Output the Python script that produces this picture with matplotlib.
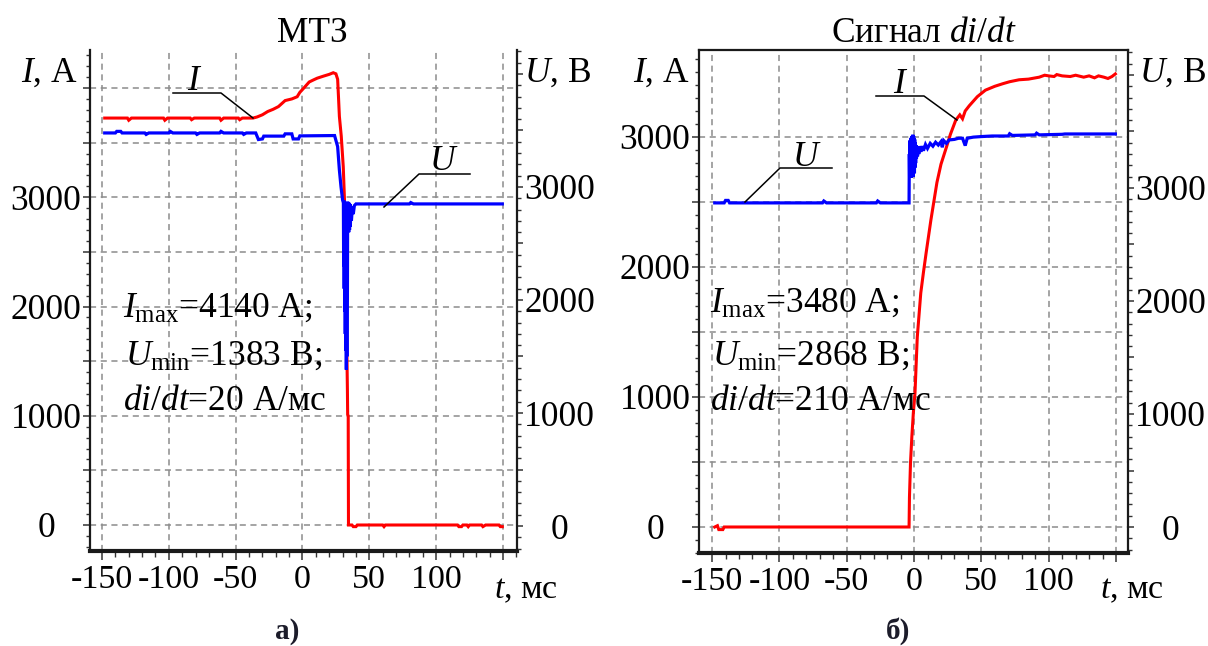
import matplotlib
matplotlib.use("Agg")
import matplotlib.pyplot as plt
from matplotlib.ticker import MultipleLocator
from matplotlib.lines import Line2D

plt.rcParams["font.family"] = ["Liberation Serif", "DejaVu Serif"]
plt.rcParams["mathtext.fontset"] = "custom"
plt.rcParams["mathtext.rm"] = "Liberation Serif"
plt.rcParams["mathtext.it"] = "Liberation Serif:italic"
plt.rcParams["mathtext.bf"] = "Liberation Serif:bold"

# ---- data: (t, ms ; value) ----
mtz_current = [
    (-148, 3725), (-131, 3725), (-130, 3705), (-128, 3725),
    (-104, 3725), (-103, 3705), (-101, 3725), (-84, 3725), (-83, 3710), (-81, 3725),
    (-62, 3725), (-61, 3705), (-59, 3725), (-48, 3725), (-47, 3710), (-45, 3725),
    (-37, 3725), (-34, 3735), (-30, 3755), (-26, 3785), (-22, 3805), (-18, 3830),
    (-13, 3885), (-8, 3900), (-4, 3920), (-2, 3960), (1, 4000), (5, 4055),
    (8, 4073), (11, 4090), (16, 4110), (20, 4125), (23, 4140), (25, 4130),
    (26.3, 4080), (27, 3900), (27.6, 3740), (29, 3560), (30.5, 3280), (31.7, 2880),
    (32.6, 2200), (33.3, 1500), (33.6, 1240), (33.8, 1010), (34.2, 1000), (34.4, 0),
    (37, 0), (38, -15), (40, -15), (41, 0), (60, 0), (61, -15), (62, 0),
    (116, 0), (117, -15), (119, -15), (120, 0), (123, 0), (124, -15), (125, 0),
    (134, 0), (135, -15), (137, 0), (147, 0), (148, -15), (149.5, -15),
]
mtz_voltage = [
    (-148, 3478), (-140, 3478), (-139, 3492), (-136, 3492), (-135, 3478),
    (-118, 3478), (-117, 3465), (-115, 3478), (-100, 3478), (-99, 3492), (-97, 3478),
    (-80, 3478), (-79, 3465), (-77, 3478), (-62, 3478), (-61, 3492), (-59, 3478),
    (-45, 3478), (-44, 3465), (-42, 3478), (-35, 3478), (-33, 3420), (-30, 3425),
    (-29, 3450), (-14, 3450), (-13, 3470), (-8, 3470), (-7, 3425), (-3, 3425),
    (-2, 3452), (24, 3455), (26.3, 3357), (27.6, 3150), (28.8, 3003), (30, 2885),
    (30.6, 2860), (30.8, 2300), (31.0, 2880), (31.2, 2100), (31.4, 2870),
    (31.6, 1900), (31.8, 2860), (32.0, 1700), (32.2, 2850), (32.4, 1550),
    (32.6, 2820), (32.8, 1383), (33.0, 2800), (33.2, 1500), (33.4, 2850),
    (33.6, 2000), (33.8, 2870), (34.0, 2600), (34.3, 2860), (34.6, 2600),
    (34.9, 2860), (35.2, 2620), (35.5, 2850), (35.8, 2650), (36.2, 2830),
    (36.6, 2700), (37.2, 2800), (38.0, 2760), (38.8, 2835), (40, 2850),
    (80, 2850), (81, 2862), (83, 2850), (149.5, 2850),
]
didt_current = [
    (-148, 0), (-146, 10), (-145, -20), (-142, -20), (-141, 0),
    (-3.7, 0), (-3.4, 230), (-2.6, 500), (-1.6, 700), (-0.5, 880),
    (0.7, 1030), (2.4, 1460), (5, 1800), (7, 1960), (9, 2110), (12.5, 2360),
    (17, 2650), (20, 2790), (24, 2920), (27, 3020), (31, 3130), (34, 3170),
    (36, 3140), (38, 3200), (41, 3240), (47, 3310), (53, 3360), (60, 3390),
    (66, 3410), (71, 3425), (78, 3440), (85, 3445), (93, 3460), (97, 3475),
    (100, 3470), (104, 3465), (106, 3480), (110, 3470), (116, 3465), (120, 3475),
    (126, 3460), (130, 3470), (134, 3455), (137, 3470), (141, 3460), (144, 3450),
    (147, 3465), (149.5, 3485),
]
didt_voltage = [
    (-148, 2868), (-141, 2868), (-140, 2890), (-138, 2890), (-137, 2868),
    (-68, 2868), (-67, 2885), (-65, 2868), (-28, 2868), (-27, 2885), (-25, 2868),
    (-3.7, 2868), (-3.5, 3300), (-3.3, 3100), (-3.1, 3420), (-2.9, 3090),
    (-2.7, 3400), (-2.5, 3100), (-2.3, 3440), (-2.1, 3090), (-1.9, 3450),
    (-1.7, 3110), (-1.5, 3460), (-1.3, 3100), (-1.1, 3470), (-0.9, 3120),
    (-0.7, 3470), (-0.5, 3100), (-0.3, 3460), (-0.1, 3150), (0.1, 3440),
    (0.3, 3130), (0.5, 3430), (0.7, 3180), (0.9, 3400), (1.2, 3220),
    (1.5, 3380), (1.8, 3260), (2.2, 3370), (2.6, 3280), (3.0, 3360),
    (3.5, 3300), (4.2, 3370), (5, 3320), (6, 3370), (7, 3330), (8.5, 3385),
    (10, 3350), (12, 3395), (14, 3370), (16, 3405), (18, 3380), (20, 3410),
    (21, 3360), (22, 3420), (24, 3395), (26, 3425), (30, 3430), (33, 3440),
    (36, 3440), (38, 3375), (39.5, 3440), (44, 3450), (50, 3455), (58, 3460),
    (70, 3460), (71, 3480), (73, 3465), (90, 3470), (91, 3485), (93, 3470),
    (110, 3475), (112, 3478), (149.5, 3478),
]

t_ticks = [-150, -100, -50, 0, 50, 100, 150]
t_labels = ["-150", "-100", "-50", "0", "50", "100", ""]
i_ticks_mtz = [0, 500, 1000, 1500, 2000, 2500, 3000, 3500, 4000]
i_ticks_didt = [0, 500, 1000, 1500, 2000, 2500, 3000]
u_ticks = [0, 500, 1000, 1500, 2000, 2500, 3000, 3500, 4000]


def thousands(ticks):
    return [str(v) if v % 1000 == 0 and v < 4000 else "" for v in ticks]


W, H = 1208, 646
FS = 25.5
fig = plt.figure(figsize=(W / 100, H / 100), dpi=100)


def fx(x):
    return x / W


def fy(y):
    return 1 - y / H


def panel(box, xlim, ilim, ulim, i_ticks, top_spine):
    l, t, r, b = box
    ax = fig.add_axes([fx(l), fy(b), (r - l) / W, (b - t) / H])
    ax2 = ax.twinx()
    ax.set_xlim(*xlim)
    ax.set_ylim(*ilim)
    ax2.set_ylim(*ulim)

    ax.set_xticks(t_ticks, labels=t_labels)
    ax.xaxis.set_minor_locator(MultipleLocator(10))
    ax.set_yticks(i_ticks, labels=thousands(i_ticks))
    ax.yaxis.set_minor_locator(MultipleLocator(100))
    ax2.set_yticks(u_ticks, labels=thousands(u_ticks))
    ax2.yaxis.set_minor_locator(MultipleLocator(100))

    ax.grid(True, which="major", color="#8c8c8c", ls=(0, (4, 3)), lw=1.1)
    ax.tick_params(axis="x", which="major", direction="out", length=6.5,
                   width=1.1, color="#333333", labelsize=24.5, pad=3)
    ax.tick_params(axis="x", which="minor", direction="out", length=4.3,
                   width=1.0, color="#333333")
    ax.tick_params(axis="y", which="major", direction="out", length=5,
                   width=1.1, color="#333333", labelsize=FS, pad=26.6)
    ax.tick_params(axis="y", which="minor", direction="out", length=2.9,
                   width=1.0, color="#333333")
    ax2.tick_params(axis="y", which="major", direction="out", length=4.5,
                    width=1.1, color="#333333", labelsize=FS, pad=26.2)
    ax2.tick_params(axis="y", which="minor", direction="out", length=2.9,
                    width=1.0, color="#333333")
    for lab in ax.get_yticklabels() + ax2.get_yticklabels():
        lab.set_horizontalalignment("center")

    for s in ["top", "bottom", "left"]:
        ax2.spines[s].set_visible(False)
    ax.spines["right"].set_visible(False)
    ax.spines["left"].set_linewidth(1.6)
    ax.spines["bottom"].set_linewidth(3.0)
    ax2.spines["right"].set_linewidth(1.6)
    ax.spines["top"].set_linewidth(1.6)
    ax.spines["top"].set_visible(top_spine)
    for sp in list(ax.spines.values()) + list(ax2.spines.values()):
        sp.set_color("#1a1a1a")
    return ax, ax2


def draw(ax, ax2, current, voltage):
    t_i, v_i = zip(*current)
    t_u, v_u = zip(*voltage)
    ax.plot(t_i, v_i, color="#ff0000", lw=2.2, solid_joinstyle="miter")
    ax2.plot(t_u, v_u, color="#0000ff", lw=2.3, solid_joinstyle="miter")


ax_a, ax_a2 = panel((90, 50, 517, 551), (-159.0, 160.5), (-238, 4348),
                    (-221, 4212), i_ticks_mtz, False)
draw(ax_a, ax_a2, mtz_current, mtz_voltage)

ax_b, ax_b2 = panel((699, 50, 1128, 553), (-159.7, 158.9), (-200, 3669),
                    (-230, 4221), i_ticks_didt, True)
draw(ax_b, ax_b2, didt_current, didt_voltage)


def txt(x, y, s, ha="center", **kw):
    fig.text(fx(x), fy(y), s, ha=ha, va="baseline", fontsize=kw.pop("size", FS), **kw)


def leader(points):
    xs = [fx(p[0]) for p in points]
    ys = [fy(p[1]) for p in points]
    fig.add_artist(Line2D(xs, ys, color="black", lw=1.1,
                          transform=fig.transFigure))


# titles and axis captions
txt(312, 42, "МТЗ")
txt(924, 42, "Сигнал $di/dt$")
txt(49, 82, "$I$, А")
txt(558, 82, "$U$, В")
txt(661, 82, "$I$, А")
txt(1173, 82, "$U$, В")
txt(494, 598, "$t$, мс", ha="left", size=24.5)
txt(1100, 598, "$t$, мс", ha="left", size=24.5)

# curve markers
txt(195, 90, "$I$")
leader([(173, 93), (221, 93), (253, 118)])
txt(444, 170, "$U$")
leader([(384, 207), (419, 174), (470, 174)])
txt(901, 93, "$I$")
leader([(876, 96), (924, 96), (957, 120)])
txt(807, 166, "$U$")
leader([(745, 202), (780, 168), (832, 168)])

# summary values
txt(123, 317, r"$I_{\mathrm{max}}$=4140 А;", ha="left")
txt(125, 365, r"$U_{\mathrm{min}}$=1383 В;", ha="left")
txt(123, 410, "$di/dt$=20 А/мс", ha="left")
txt(710, 312, r"$I_{\mathrm{max}}$=3480 А;", ha="left")
txt(712, 365, r"$U_{\mathrm{min}}$=2868 В;", ha="left")
txt(710, 410, "$di/dt$=210 А/мс", ha="left")

txt(287, 639, "а)", size=21, fontweight="bold", color="#1c1c2a")
txt(898, 639, "б)", size=21, fontweight="bold", color="#1c1c2a")

fig.savefig("out.png", dpi=100)
